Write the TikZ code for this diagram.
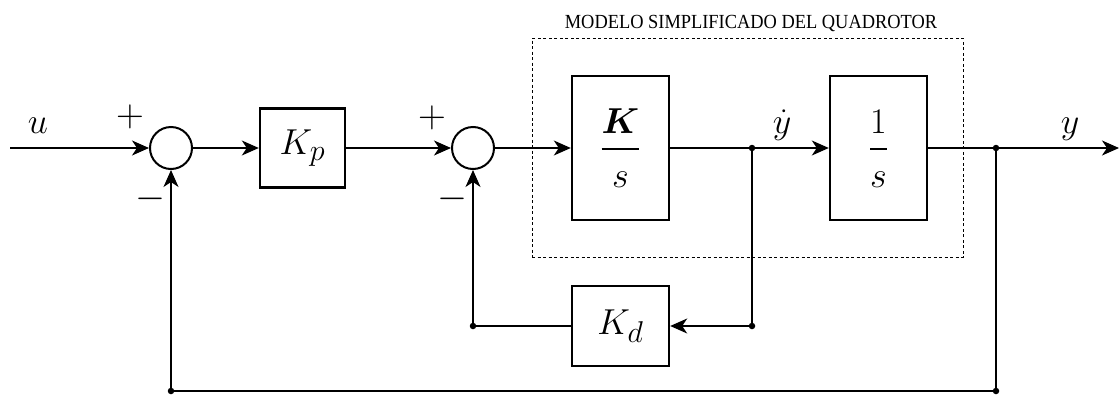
\documentclass[tikz,border=0pt]{standalone}
\usepackage{amsmath}
\usepackage{bm}
\usepackage{graphicx}
\usepackage{fontspec}
\newfontfamily\titlefont{Liberation Serif}
\usetikzlibrary{arrows.meta}
\newcommand{\zz}[1]{\scalebox{1.45}{\Huge$#1$}}
\newcommand{\zs}[1]{\scalebox{1.55}{\Huge$#1$}}
\newcommand{\zfrac}[2]{\scalebox{1.45}{\Huge$\genfrac{}{}{1.9pt}{0}{\rule{0pt}{0.8em}#1}{\rule[-0.1em]{0pt}{0.9em}#2}$}}
\begin{document}
\begin{tikzpicture}[x=1pt,y=-1pt,
  blk/.style={draw,line width=2.4pt,inner sep=0pt},
  sumc/.style={draw,circle,line width=2pt,minimum size=42pt,inner sep=0pt},
  con/.style={line width=1.4pt},
  arr/.style={con,-{Stealth[length=17pt,width=15pt,inset=5pt]}},
  dot/.style={circle,fill,inner sep=0pt,minimum size=6.5pt},
  lbl/.style={inner sep=0pt},
  sgn/.style={inner sep=0pt}]
\useasboundingbox (0,0) rectangle (1119,394);
% model frame
\node[draw,dashed,line width=0.8pt,dash pattern=on 3pt off 2.5pt,minimum width=431pt,minimum height=219pt,inner sep=0pt] (mdl) at (747.5,147.5) {};
\node[anchor=base,inner sep=0pt,xscale=0.92,font=\titlefont\fontsize{20}{22}\selectfont] (ttl) at (751,28) {MODELO SIMPLIFICADO DEL QUADROTOR};
% blocks
\coordinate (in) at (10,148);
\node[sumc] (s1) at (171,148) {};
\node[blk,minimum width=85pt,minimum height=79pt] (kp) at (302.5,148) {\zz{K_p}};
\node[sumc] (s2) at (473,148) {};
\node[blk,minimum width=97pt,minimum height=144pt] (g1) at (620.5,148) {\zfrac{\bm{K}}{s}};
\node[blk,minimum width=97pt,minimum height=144pt] (g2) at (878.5,148) {\zfrac{1}{s}};
\node[blk,minimum width=97pt,minimum height=80pt] (kd) at (620.5,326) {\zz{K_d}};
\node[dot] (j1) at (752,148) {};
\node[dot] (j2) at (752,326) {};
\node[dot] (j3) at (473,326) {};
\node[dot] (j4) at (996,148) {};
\node[dot] (j5) at (996,391) {};
\node[dot] (j6) at (171,391) {};
\coordinate (out) at (1119,148);
% connectors
\draw[arr] (in) -- (s1.west);
\draw[arr] (s1.east) -- (kp.west);
\draw[arr] (kp.east) -- (s2.west);
\draw[arr] (s2.east) -- (g1.west);
\draw[con] (g1.east) -- (j1.center);
\draw[arr] (j1.center) -- (g2.west);
\draw[con] (g2.east) -- (j4.center);
\draw[arr] (j4.center) -- (out);
\draw[con] (j1.center) -- (j2.center);
\draw[arr] (j2.center) -- (kd.east);
\draw[con] (kd.west) -- (j3.center);
\draw[arr] (j3.center) -- (s2.south);
\draw[con] (j4.center) -- (j5.center) -- (j6.center);
\draw[arr] (j6.center) -- (s1.south);
% labels
\node[lbl,anchor=base] (lu) at (38,133) {\zz{u}};
\node[lbl,anchor=base] (lyd) at (782,133) {\zz{\dot{y}}};
\node[lbl,anchor=base] (ly) at (1070,133) {\zz{y}};
\node[sgn] (p1) at (130,117) {\zs{+}};
\node[sgn] (m1) at (150,199) {\zs{-}};
\node[sgn] (p2) at (432,118) {\zs{+}};
\node[sgn] (m2) at (452,199) {\zs{-}};
\end{tikzpicture}
\end{document}
